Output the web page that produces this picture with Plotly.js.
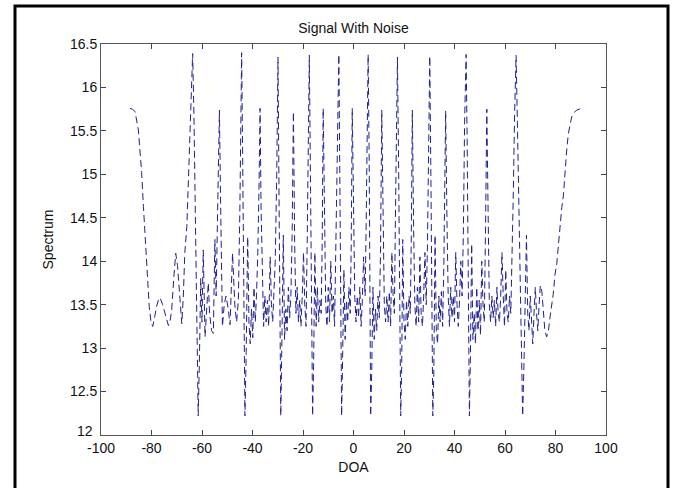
<!DOCTYPE html>
<html>
<head>
<meta charset="utf-8">
<script src="https://cdn.plot.ly/plotly-3.0.1.min.js"></script>
<style>
html,body{margin:0;padding:0;background:#fff;}
#chart{width:673px;height:488px;}
</style>
</head>
<body>
<div id="chart"></div>
<script>
const chartTitle = "Signal With Noise";
const xTitle = "DOA";
const yTitle = "Spectrum";

const doa = [
-88.5,-87.5,-86.5,-85.8,-85.2,-84.6,-83.9,-83.2,-82.6,-82.2,-81.6,-80.9,-80.2,-79.5,-78.8,-78.0,-77.2,-76.6,-75.6,-74.7,
-73.9,-73.3,-72.6,-72.0,-71.2,-70.4,-69.7,-69.0,-68.5,-68.0,-67.4,-66.8,-66.0,-65.2,-64.4,-63.7,-63.2,-62.7,-62.1,-61.5,
-61.0,-60.5,-60.0,-59.5,-58.8,-58.1,-57.5,-57.0,-56.2,-55.5,-54.9,-54.4,-53.8,-53.1,-52.6,-52.2,-51.9,-51.2,-50.5,-49.6,
-48.9,-47.9,-47.0,-46.3,-45.6,-45.0,-44.6,-44.3,-43.9,-43.5,-43.0,-42.5,-41.9,-41.4,-40.9,-40.4,-39.9,-39.4,-38.9,-38.4,
-37.9,-37.4,-37.0,-36.6,-36.1,-35.6,-35.1,-34.6,-34.1,-33.6,-33.0,-32.5,-32.0,-31.5,-31.0,-30.4,-29.9,-29.4,-28.8,-28.3,
-27.8,-27.3,-26.8,-26.3,-25.8,-25.3,-24.8,-24.3,-23.8,-23.3,-22.8,-22.3,-21.8,-21.3,-20.8,-20.3,-19.8,-19.3,-18.8,-18.3,
-17.9,-17.5,-17.0,-16.6,-16.2,-15.8,-15.3,-14.8,-14.3,-13.8,-13.3,-12.8,-12.4,-12.0,-11.5,-11.0,-10.5,-10.0,-9.5,-9.0,
-8.5,-8.0,-7.5,-7.0,-6.5,-6.2,-5.8,-5.4,-5.0,-4.7,-4.3,-3.8,-3.3,-2.8,-2.3,-1.8,-1.3,-0.9,-0.5,0.0,
0.5,1.0,1.5,2.0,2.5,3.0,3.5,4.0,4.6,5.0,5.4,5.8,6.2,6.5,6.8,7.2,7.7,8.2,8.7,9.2,
9.7,10.2,10.7,11.2,11.7,12.2,12.7,13.2,13.7,14.2,14.7,15.2,15.7,16.2,16.6,17.0,17.4,17.9,18.3,18.7,
19.1,19.5,20.0,20.5,21.0,21.5,22.0,22.5,22.9,23.3,23.8,24.3,24.8,25.3,25.8,26.3,26.8,27.3,27.8,28.3,
28.8,29.3,29.8,30.2,30.7,31.0,31.4,31.8,32.3,32.8,33.3,33.8,34.3,34.8,35.3,35.8,36.2,36.5,37.0,37.5,
38.0,38.5,39.0,39.5,40.0,40.5,41.0,41.5,42.0,42.5,43.0,43.5,44.0,44.6,45.0,45.4,45.9,46.3,46.8,47.3,
47.8,48.3,48.8,49.3,49.8,50.3,50.8,51.3,51.8,52.3,52.8,53.3,53.8,54.3,54.8,55.3,55.8,56.3,56.8,57.3,
57.8,58.3,58.8,59.3,59.8,60.3,60.8,61.3,61.8,62.3,62.8,63.3,63.8,64.4,64.9,65.4,65.9,66.4,67.0,67.5,
68.0,68.5,69.0,69.5,70.0,70.5,71.0,71.5,72.0,72.5,73.0,73.5,74.0,74.6,75.2,75.8,76.5,77.2,77.8,78.5,
79.1,79.8,80.5,81.2,81.8,82.5,83.1,83.8,84.5,85.1,85.8,86.4,87.4,88.4,89.4,90.2
];

const spectrum = [
15.76,15.75,15.72,15.62,15.51,15.28,15.02,14.63,14.33,14.09,13.78,13.48,13.30,13.25,13.35,13.48,13.56,13.58,13.50,13.40,
13.30,13.26,13.32,13.44,13.80,14.09,13.95,13.65,13.40,13.28,13.60,14.10,14.40,15.10,15.90,16.39,15.70,14.60,13.30,12.22,
12.90,13.80,13.30,14.13,13.13,13.50,13.75,13.40,13.20,13.17,14.25,13.60,14.50,15.74,14.60,13.70,13.25,13.50,13.60,13.45,
13.27,14.09,13.50,13.30,13.55,14.60,15.60,16.40,15.20,13.60,12.22,12.95,14.28,13.30,13.05,13.45,13.12,13.70,13.30,13.62,
14.10,14.90,15.76,14.60,13.65,13.25,13.60,13.30,13.55,13.25,14.05,13.50,13.30,13.60,14.00,15.00,16.35,14.40,12.22,13.20,
14.30,13.10,13.45,13.20,13.70,13.35,13.60,14.30,15.72,14.20,13.40,13.70,13.30,13.55,13.25,13.60,14.10,13.50,13.25,14.30,
15.40,16.37,14.80,13.40,12.22,12.80,14.10,13.25,13.70,13.30,13.55,13.40,14.20,15.76,14.40,13.50,13.25,13.70,13.30,14.00,
13.40,13.60,13.25,14.10,15.00,15.94,16.38,14.90,13.30,12.22,12.90,13.90,13.10,13.55,13.30,13.70,13.40,14.20,15.76,14.50,
13.60,13.30,13.60,13.35,13.70,13.25,13.55,14.05,13.60,14.40,15.40,16.38,15.20,13.60,12.22,12.70,13.70,13.10,13.45,13.20,
13.60,13.35,14.10,15.74,14.70,13.50,13.30,13.60,13.30,13.65,13.25,14.10,13.60,13.40,14.50,15.50,16.35,15.00,13.60,12.22,
12.80,14.25,13.30,13.10,13.55,13.25,13.60,13.40,14.30,15.74,14.40,13.50,13.25,13.70,13.30,14.05,13.40,13.25,13.60,14.10,
13.50,14.20,15.40,16.36,14.80,13.50,12.22,12.70,14.30,13.20,13.05,13.60,13.30,13.65,13.25,14.00,14.90,15.73,14.50,13.60,
13.25,13.70,13.35,13.60,13.30,14.10,13.50,13.25,13.55,14.00,13.60,14.30,15.60,16.38,15.40,13.80,12.22,12.90,14.20,13.10,
13.40,13.05,13.70,13.20,13.55,13.15,14.00,13.50,13.30,14.40,15.75,14.60,13.50,13.30,13.60,13.35,13.55,13.25,13.70,13.40,
13.30,13.60,14.10,13.60,13.25,13.90,13.40,13.30,13.60,13.40,14.00,14.80,15.70,16.37,15.60,14.80,13.90,13.00,12.22,12.80,
13.60,14.30,13.40,13.20,13.60,13.30,13.05,13.40,13.70,13.40,13.20,13.50,13.72,13.65,13.40,13.20,13.13,13.20,13.35,13.50,
13.62,13.85,13.97,14.20,14.45,14.62,14.75,15.09,15.30,15.47,15.58,15.66,15.71,15.74,15.75,15.76
];

const xTicks = [-100,-80,-60,-40,-20,0,20,40,60,80,100];
const yTicks = [12.5,13,13.5,14,14.5,15,15.5,16,16.5];
const yBottomLabel = 12;

const fontFam = "Liberation Sans, Arial, Helvetica, sans-serif";

const trace = {
  x: doa,
  y: spectrum,
  type: "scatter",
  mode: "lines",
  line: {color: "#20208f", width: 1, dash: "7px,4px"},
  hoverinfo: "skip"
};

const layout = {
  width: 673,
  height: 488,
  paper_bgcolor: "#ffffff",
  plot_bgcolor: "#ffffff",
  margin: {l: 101, r: 67, t: 44, b: 53},
  showlegend: false,
  font: {family: fontFam, size: 14, color: "#111"},
  title: {
    text: chartTitle,
    font: {family: fontFam, size: 14, color: "#111"},
    x: 0.5, xref: "paper", xanchor: "center",
    y: 1 - 28/488, yref: "container", yanchor: "middle"
  },
  xaxis: {
    range: [-100, 100],
    tickvals: xTicks,
    ticktext: xTicks.map(String),
    ticks: "inside",
    ticklen: 5,
    tickcolor: "#444",
    showline: true,
    linecolor: "#555",
    linewidth: 1,
    mirror: "ticks",
    showgrid: false,
    zeroline: false,
    tickfont: {family: fontFam, size: 14, color: "#111"},
    title: {text: xTitle, font: {family: fontFam, size: 14, color: "#111"}, standoff: 7}
  },
  yaxis: {
    range: [12, 16.5],
    tickvals: yTicks,
    ticktext: yTicks.map(String),
    ticks: "inside",
    ticklen: 5,
    tickcolor: "#444",
    showline: true,
    linecolor: "#555",
    linewidth: 1,
    mirror: "ticks",
    showgrid: false,
    zeroline: false,
    tickfont: {family: fontFam, size: 14, color: "#111"},
    title: {text: yTitle, font: {family: fontFam, size: 14, color: "#111"}, standoff: 13}
  },
  annotations: [{
    text: String(yBottomLabel),
    xref: "paper", yref: "paper",
    x: -6/505, y: (435 - 431) / 391,
    xanchor: "right", yanchor: "middle",
    showarrow: false,
    font: {family: fontFam, size: 14, color: "#111"}
  }],
  shapes: [{
    type: "rect",
    xref: "paper", yref: "paper",
    x0: (15 - 101) / 505, x1: (668 - 101) / 505,
    y0: (435 - 500) / 391, y1: (435 - 6) / 391,
    line: {color: "#000", width: 3},
    fillcolor: "rgba(0,0,0,0)",
    layer: "below"
  }]
};

Plotly.newPlot("chart", [trace], layout, {displayModeBar: false, staticPlot: true});
</script>
</body>
</html>
